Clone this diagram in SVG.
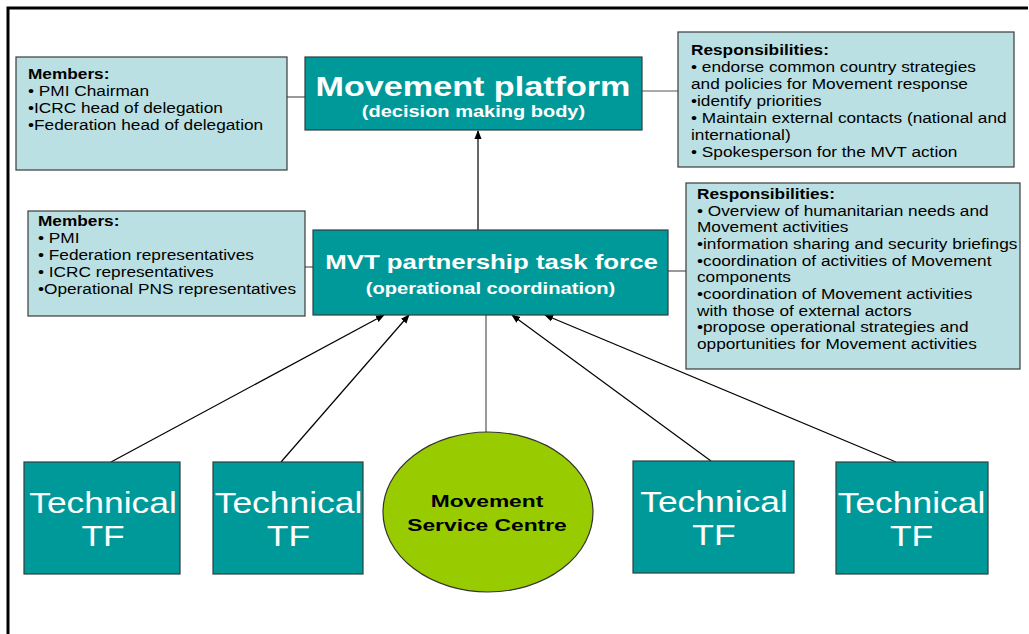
<svg xmlns="http://www.w3.org/2000/svg" width="1029" height="634" viewBox="0 0 1029 634">
<defs>
<style>
.info{fill:#bbe0e3;stroke:#3a3a3a;stroke-width:1.2}
.teal{fill:#009999;stroke:#2f3f3f;stroke-width:1.2}
.t{font-family:"Liberation Sans",Arial,sans-serif;font-size:15px;fill:#000}
.b{font-weight:bold}
.w{fill:#fff;font-family:"Liberation Sans",Arial,sans-serif;text-anchor:middle}
.tech{font-size:30px}
.conn{stroke:#000;stroke-width:1.2;fill:none}
.gray{stroke:#555;stroke-width:1.2;fill:none}
</style>
<marker id="ah" viewBox="0 0 10 10" refX="9" refY="5" markerWidth="9" markerHeight="9" markerUnits="userSpaceOnUse" orient="auto">
<path d="M0,1 L10,5 L0,9 Z" fill="#000"/>
</marker>
</defs>
<rect width="1029" height="634" fill="#fff"/>
<path d="M8,634 V8 H1028" fill="none" stroke="#000" stroke-width="3"/>

<g id="connectors">
<line class="gray" x1="287" y1="97" x2="305" y2="97"/>
<line class="gray" x1="642" y1="91" x2="678" y2="91"/>
<line class="gray" x1="305" y1="267" x2="313" y2="267"/>
<line class="gray" x1="668" y1="271" x2="686" y2="271"/>
<line class="conn" x1="478" y1="230" x2="478" y2="131" marker-end="url(#ah)"/>
<line class="conn" x1="111" y1="462" x2="384" y2="315" marker-end="url(#ah)"/>
<line class="conn" x1="281" y1="462" x2="409" y2="315" marker-end="url(#ah)"/>
<line class="gray" x1="486" y1="433" x2="486" y2="315"/>
<line class="conn" x1="711" y1="461" x2="512" y2="315" marker-end="url(#ah)"/>
<line class="conn" x1="896" y1="462" x2="545" y2="315" marker-end="url(#ah)"/>
</g>

<g id="members1">
<rect class="info" x="16" y="57" width="271" height="113"/>
<text class="t" x="28" y="79" transform="matrix(1.15,0,0,1,-4.2,0)"><tspan class="b">Members:</tspan><tspan x="28" y="96">• PMI Chairman</tspan><tspan x="28" y="113">•ICRC head of delegation</tspan><tspan x="28" y="130">•Federation head of delegation</tspan></text>
</g>

<g id="platform">
<rect class="teal" x="305" y="57" width="337" height="73"/>
<text class="w b" x="473" y="96" font-size="28" transform="matrix(1.22,0,0,1,-104.06,0)">Movement platform</text>
<text class="w b" x="473.5" y="117" font-size="16" transform="matrix(1.25,0,0,1,-118.4,0)">(decision making body)</text>
</g>

<g id="resp1">
<rect class="info" x="678" y="32" width="336" height="135"/>
<text class="t" x="691" y="55" transform="matrix(1.15,0,0,1,-103.65,0)"><tspan class="b">Responsibilities:</tspan><tspan x="691" y="72">• endorse common country strategies</tspan><tspan x="691" y="89">and policies for Movement response</tspan><tspan x="691" y="106">•identify priorities</tspan><tspan x="691" y="123">• Maintain external contacts (national and</tspan><tspan x="691" y="140">international)</tspan><tspan x="691" y="157">• Spokesperson for the MVT action</tspan></text>
</g>

<g id="members2">
<rect class="info" x="28" y="211" width="277" height="105"/>
<text class="t" x="38" y="226" transform="matrix(1.15,0,0,1,-5.7,0)"><tspan class="b">Members:</tspan><tspan x="38" y="243">• PMI</tspan><tspan x="38" y="260">• Federation representatives</tspan><tspan x="38" y="277">• ICRC representatives</tspan><tspan x="38" y="294">•Operational PNS representatives</tspan></text>
</g>

<g id="taskforce">
<rect class="teal" x="313" y="230" width="355" height="85"/>
<text class="w b" x="491.5" y="269" font-size="21" transform="matrix(1.23,0,0,1,-113.0,0)">MVT partnership task force</text>
<text class="w b" x="490.5" y="294" font-size="16" transform="matrix(1.26,0,0,1,-127.5,0)">(operational coordination)</text>
</g>

<g id="resp2">
<rect class="info" x="686" y="183" width="334" height="186"/>
<text class="t" x="697" y="199" transform="matrix(1.15,0,0,1,-104.55,0)"><tspan class="b">Responsibilities:</tspan><tspan x="697" y="216">• Overview of humanitarian needs and</tspan><tspan x="697" y="232">Movement activities</tspan><tspan x="697" y="249">•information sharing and security briefings</tspan><tspan x="697" y="266">•coordination of activities of Movement</tspan><tspan x="697" y="282">components</tspan><tspan x="697" y="299">•coordination of Movement activities</tspan><tspan x="697" y="316">with those of external actors</tspan><tspan x="697" y="332">•propose operational strategies and</tspan><tspan x="697" y="349">opportunities for Movement activities</tspan></text>
</g>

<g id="tf1">
<rect class="teal" x="24" y="462" width="156" height="112"/>
<g transform="matrix(1.18,0,0,1,-18.54,0)">
<text class="w tech" x="103" y="513">Technical</text>
<text class="w tech" x="103" y="546">TF</text>
</g>
</g>
<g id="tf2">
<rect class="teal" x="213" y="462" width="150" height="112"/>
<g transform="matrix(1.18,0,0,1,-51.93,0)">
<text class="w tech" x="288.5" y="513">Technical</text>
<text class="w tech" x="288.5" y="546">TF</text>
</g>
</g>
<g id="msc">
<ellipse cx="488" cy="512" rx="105" ry="80" fill="#99cc00" stroke="#333" stroke-width="1.2"/>
<g transform="matrix(1.34,0,0,1,-165.58,0)" font-family="Liberation Sans,Arial,sans-serif" font-size="17" font-weight="bold" text-anchor="middle" fill="#000">
<text x="487" y="507">Movement</text>
<text x="487" y="531">Service Centre</text>
</g>
</g>
<g id="tf3">
<rect class="teal" x="633" y="461" width="161" height="112"/>
<g transform="matrix(1.18,0,0,1,-128.52,0)">
<text class="w tech" x="714" y="512">Technical</text>
<text class="w tech" x="714" y="545">TF</text>
</g>
</g>
<g id="tf4">
<rect class="teal" x="836" y="462" width="152" height="112"/>
<g transform="matrix(1.18,0,0,1,-164.07,0)">
<text class="w tech" x="911.5" y="513">Technical</text>
<text class="w tech" x="911.5" y="546">TF</text>
</g>
</g>
</svg>
